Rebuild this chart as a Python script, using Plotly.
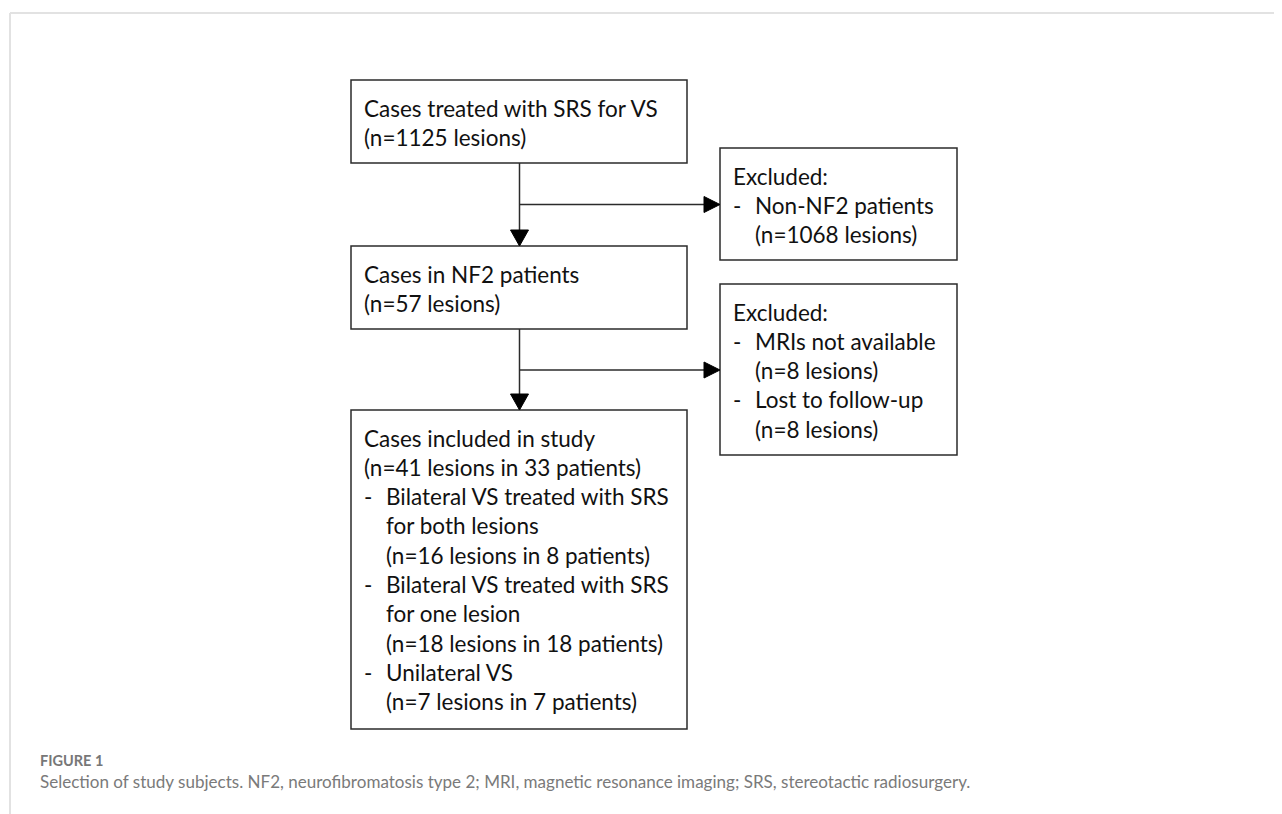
import plotly.graph_objects as go

# ---------------- data (texts of the flow chart) ----------------
main_steps = ["Cases treated with SRS for VS", "Cases in NF2 patients", "Cases included in study"]
main_counts = ["(n=1125 lesions)", "(n=57 lesions)", "(n=41 lesions in 33 patients)"]

included_groups = [["Bilateral VS treated with SRS", "for both lesions"],
                   ["Bilateral VS treated with SRS", "for one lesion"],
                   ["Unilateral VS"]]
included_counts = ["(n=16 lesions in 8 patients)", "(n=18 lesions in 18 patients)",
                   "(n=7 lesions in 7 patients)"]

excluded_title = "Excluded:"
excluded_1_reasons = ["Non-NF2 patients"]
excluded_1_counts = ["(n=1068 lesions)"]
excluded_2_reasons = ["MRIs not available", "Lost to follow-up"]
excluded_2_counts = ["(n=8 lesions)", "(n=8 lesions)"]

caption_label = "FIGURE 1"
caption_text = ("Selection of study subjects. NF2, neurofibromatosis type 2; MRI, magnetic "
                "resonance imaging; SRS, stereotactic radiosurgery.")

# ---------------- layout geometry (page pixels) ----------------
W, H = 1282, 814
OFF = 8  # default page margin of the html body
BOX = {  # x0, y0, x1, y1
    "step1": (351, 80, 687, 163),
    "step2": (351, 246, 687, 329),
    "step3": (351, 410, 687, 729),
    "excl1": (720, 148, 957, 260),
    "excl2": (720, 284, 957, 455),
}
LINE_H = 29.3
FIRST_BASE = 35.5
PAD_X = 12
INDENT = 22
FONT = "Lato"
FS = 22.5
TXT_COL = "#111111"
EDGE = "#2b2b2b"

# line lists: (text, has_dash, indented)
def step_lines(i):
    lines = [(main_steps[i], False, False), (main_counts[i], False, False)]
    if i == 2:
        for grp, cnt in zip(included_groups, included_counts):
            lines.append((grp[0], True, True))
            for extra in grp[1:]:
                lines.append((extra, False, True))
            lines.append((cnt, False, True))
    return lines

def excl_lines(reasons, counts):
    lines = [(excluded_title, False, False)]
    for r, c in zip(reasons, counts):
        lines.append((r, True, True))
        lines.append((c, False, True))
    return lines

box_lines = {
    "step1": step_lines(0),
    "step2": step_lines(1),
    "step3": step_lines(2),
    "excl1": excl_lines(excluded_1_reasons, excluded_1_counts),
    "excl2": excl_lines(excluded_2_reasons, excluded_2_counts),
}

fig = go.Figure()
shapes = []
annotations = []

# page frame (light grey)
shapes.append(dict(type="line", x0=10, y0=13, x1=W + OFF, y1=13, line=dict(color="#e2e2e2", width=2)))
shapes.append(dict(type="line", x0=10, y0=13, x1=10, y1=H + OFF, line=dict(color="#e2e2e2", width=2)))

for key, (x0, y0, x1, y1) in BOX.items():
    shapes.append(dict(type="rect", x0=x0, y0=y0, x1=x1, y1=y1,
                       line=dict(color=EDGE, width=1.5), fillcolor="white"))
    for k, (txt, dash, ind) in enumerate(box_lines[key]):
        base = y0 + FIRST_BASE + k * LINE_H
        yc = base - 0.33 * FS
        tx = x0 + PAD_X + (INDENT if ind else 0)
        if dash:
            annotations.append(dict(x=x0 + PAD_X, y=yc, text="-", xanchor="left", yanchor="middle",
                                    showarrow=False, borderpad=0,
                                    font=dict(family=FONT, size=FS, color=TXT_COL)))
        annotations.append(dict(x=tx, y=yc, text=txt, xanchor="left", yanchor="middle",
                                showarrow=False, borderpad=0,
                                font=dict(family=FONT, size=FS, color=TXT_COL)))

# connectors
cx = 519.5
AH = 16   # arrow head length
AW = 9    # half width
def down_arrow(x, ya, yb):
    shapes.append(dict(type="line", x0=x, y0=ya, x1=x, y1=yb - AH, line=dict(color=EDGE, width=1.5)))
    shapes.append(dict(type="path", path=f"M {x-AW},{yb-AH} L {x+AW},{yb-AH} L {x},{yb} Z",
                       fillcolor="black", line=dict(color="black", width=1)))

def right_arrow(xa, xb, y):
    shapes.append(dict(type="line", x0=xa, y0=y, x1=xb - AH, y1=y, line=dict(color=EDGE, width=1.5)))
    shapes.append(dict(type="path", path=f"M {xb-AH},{y-8} L {xb-AH},{y+8} L {xb},{y} Z",
                       fillcolor="black", line=dict(color="black", width=1)))

down_arrow(cx, BOX["step1"][3], BOX["step2"][1])
right_arrow(cx, BOX["excl1"][0], 204.5)
down_arrow(cx, BOX["step2"][3], BOX["step3"][1])
right_arrow(cx, BOX["excl2"][0], 370)

# caption
annotations.append(dict(x=39, y=760, text=f"<b>{caption_label}</b>", xanchor="left", yanchor="middle",
                        showarrow=False, borderpad=0,
                        font=dict(family="Lato", size=14.5, color="#777777")))
annotations.append(dict(x=39, y=781.5, text=caption_text, xanchor="left", yanchor="middle",
                        showarrow=False, borderpad=0,
                        font=dict(family="Lato", size=17.05, color="#7a7a7a")))

fig.update_layout(
    width=W, height=H, margin=dict(l=0, r=0, t=0, b=0),
    paper_bgcolor="white", plot_bgcolor="white",
    xaxis=dict(range=[OFF, W + OFF], visible=False, fixedrange=True),
    yaxis=dict(range=[H + OFF, OFF], visible=False, fixedrange=True),
    shapes=shapes, annotations=annotations, showlegend=False,
)
fig.write_html("out.html")
